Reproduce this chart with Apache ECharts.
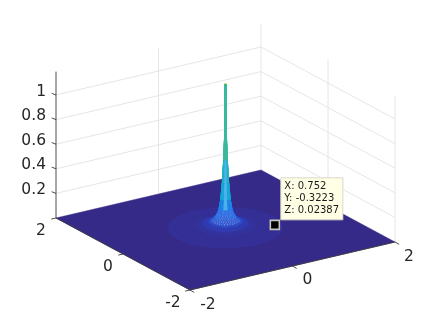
<!DOCTYPE html>
<html><head><meta charset="utf-8">
<style>html,body{margin:0;padding:0;background:#fff}#c{width:436px;height:326px}</style>
<script src="https://cdn.jsdelivr.net/npm/echarts@6/dist/echarts.min.js"></script>
</head><body><div id="c"></div>
<script>
// ---- values ----
const xTicks = [-2, 0, 2];
const yTicks = [-2, 0, 2];
const zTicks = [0.2, 0.4, 0.6, 0.8, 1];
const zLimit = 1.19;
// radial profile of the surface around its peak
const profileR = [0, .005, .013, .016, .03, .052, .078, .105, .125, .15, .175, .205, .24, .28, .33, .38, .44, .5, .6, .7, .82, .94];
const profileZ = [1.19, 1.186, 1.17, .75, .57, .385, .25, .175, .145, .122, .102, .087, .075, .065, .058, .05, .043, .037, .031, .027, .0239, .018];
const tipX = [0.752], tipY = [-0.3223], tipZ = [0.02387];

// ---- view and styles ----
const view = {ox: 225.5, oy: 230, xx: 51.25, xy: -12, yx: -33.5, yy: -18, zy: -123};
const levelLimits = [.037, .05, .065, .085, .12, .18, .26, .38, .5, .6, 1.187, 9];
const levelColors = ['#343097', '#33359f', '#303eb4', '#2d4ec8', '#2a60da', '#2472e4', '#1e84e6', '#1a97e0', '#16a8d6', '#1fb3c4', '#3cb99f', '#e8d83a'];
const floorColor = '#352a87', gridColor = '#e6e6e6', axisColor = '#3a3a3a', textColor = '#262626';
const sectors = 64;
const fontFamily = '"DejaVu Sans"';

function proj(api, x, y, z) {
  return api.coord([
    view.ox + view.xx * x + view.yx * y,
    view.oy + view.xy * x + view.yy * y + view.zy * z
  ]);
}
function levelColor(z) { return levelColors[levelLimits.findIndex(l => z <= l)]; }

// ---- surface facets ----
const faces = [];
for (let i = 0; i < profileR.length - 1; i++) {
  for (let k = 0; k < sectors; k++) {
    const a0 = k / sectors * 2 * Math.PI, a1 = (k + 1) / sectors * 2 * Math.PI;
    const r0 = profileR[i], r1 = profileR[i + 1], z0 = profileZ[i], z1 = profileZ[i + 1];
    const P = [[r0, a0, z0], [r1, a0, z1], [r1, a1, z1], [r0, a1, z0]].map(p => [p[0] * Math.cos(p[1]), p[0] * Math.sin(p[1]), p[2]]);
    const am = (a0 + a1) / 2, rm = (r0 + r1) / 2;
    const cx = rm * Math.cos(am), cy = rm * Math.sin(am);
    const facing = -(12 * Math.cos(am) + 18 * Math.sin(am)) / 21.6;
    // foot of the spike: the white faces glimpse through the mesh
    const pale = facing > 0 && r0 >= .105 && r0 < .24 && ((i + k) % 2 === 0);
    // lighter streak down the front of the spike
    const streak = facing > .96 && r0 >= .03 && r0 < .105;
    faces.push({P, depth: 12 * cx + 18 * cy, color: levelColor(z0), pale, streak});
  }
}
faces.sort((a, b) => b.depth - a.depth);

// ---- walls, axes, labels ----
const X0 = xTicks[0], X1 = xTicks[2], Y0 = yTicks[0], Y1 = yTicks[2];
const gridSegs = [];
zTicks.forEach(z => {
  gridSegs.push([X0, Y1, z, X1, Y1, z]);
  gridSegs.push([X1, Y1, z, X1, Y0, z]);
});
xTicks.slice(1).forEach(x => gridSegs.push([x, Y1, 0, x, Y1, zLimit]));
yTicks.slice(0, 2).forEach(y => gridSegs.push([X1, y, 0, X1, y, zLimit]));

const axisSegs = [
  [X0, Y1, 0, X0, Y1, zLimit],
  [X0, Y0, 0, X1, Y0, 0],
  [X0, Y0, 0, X0, Y1, 0]
];
const tickItems = [];
xTicks.forEach(x => tickItems.push({p: [x, Y0, 0], d: [4.2, 2.4], lab: String(x), o: [x === 0 ? 15 : (x < 0 ? 18 : 14), x === 0 ? 14 : 15]}));
yTicks.forEach(y => tickItems.push({p: [X0, y, 0], d: [-4.8, 1.1], lab: String(y), o: [y < 0 ? -17 : -15, 12.5]}));
zTicks.forEach(z => tickItems.push({p: [X0, Y1, z], d: [-4.3, -1.7], lab: String(z), o: [-10, -3.5], right: true}));

function segRender(segs, color, width) {
  return (params, api) => {
    const s = segs[params.dataIndex];
    const a = proj(api, s[0], s[1], s[2]), b = proj(api, s[3], s[4], s[5]);
    return {type: 'line', shape: {x1: a[0], y1: a[1], x2: b[0], y2: b[1]}, style: {stroke: color, lineWidth: width}};
  };
}
const base = {type: 'custom', coordinateSystem: 'cartesian2d', silent: true, animation: false, clip: false};

const option = {
  animation: false,
  backgroundColor: '#fff',
  grid: {left: 0, right: 0, top: 0, bottom: 0},
  xAxis: {type: 'value', min: 0, max: 436, show: false},
  yAxis: {type: 'value', min: 0, max: 326, inverse: true, show: false},
  series: [
    Object.assign({}, base, {name: 'wall grid', data: gridSegs.map((s, i) => [i]), encode: {x: 0},
      renderItem: segRender(gridSegs, gridColor, 1)}),
    Object.assign({}, base, {name: 'floor', data: [[0]], encode: {x: 0},
      renderItem: (params, api) => ({
        type: 'polygon',
        shape: {points: [proj(api, X0, Y0, 0), proj(api, X1, Y0, 0), proj(api, X1, Y1, 0), proj(api, X0, Y1, 0)]},
        style: {fill: floorColor, stroke: floorColor, lineWidth: .5}
      })}),
    Object.assign({}, base, {name: 'surface', data: faces.map((f, i) => [i]), encode: {x: 0},
      renderItem: (params, api) => {
        const f = faces[params.dataIndex];
        const fill = f.pale ? '#8f8fe4' : (f.streak ? '#52b4ea' : f.color);
        return {
          type: 'polygon',
          shape: {points: f.P.map(p => proj(api, p[0], p[1], p[2]))},
          style: {fill: fill, stroke: f.streak ? fill : f.color, lineWidth: f.pale ? .2 : .35}
        };
      }}),
    Object.assign({}, base, {name: 'axes', data: axisSegs.map((s, i) => [i]), encode: {x: 0},
      renderItem: segRender(axisSegs, axisColor, .9)}),
    Object.assign({}, base, {name: 'ticks', data: tickItems.map((s, i) => [i]), encode: {x: 0},
      renderItem: (params, api) => {
        const t = tickItems[params.dataIndex];
        const a = proj(api, t.p[0], t.p[1], t.p[2]);
        return {type: 'group', children: [
          {type: 'line', shape: {x1: a[0], y1: a[1], x2: a[0] + t.d[0], y2: a[1] + t.d[1]}, style: {stroke: axisColor, lineWidth: .9}},
          {type: 'text', style: {text: t.lab, x: a[0] + t.o[0], y: a[1] + t.o[1], fill: textColor,
            fontSize: 15.5, fontFamily: fontFamily, align: t.right ? 'right' : 'center', verticalAlign: 'middle'}}
        ]};
      }}),
    Object.assign({}, base, {name: 'data tip', data: [[tipX[0], tipY[0], tipZ[0]]], encode: {x: 0},
      renderItem: (params, api) => {
        const c = proj(api, api.value(0), api.value(1), api.value(2));
        const bx = c[0] + 6, by = c[1] - 46, lx = bx + 3.5;
        const line = (s, dy) => ({type: 'text', style: {text: s, x: lx, y: by + dy, fill: '#1a1a1a',
          fontSize: 10, fontFamily: fontFamily, align: 'left', verticalAlign: 'middle'}});
        return {type: 'group', children: [
          {type: 'rect', shape: {x: bx, y: by, width: 62, height: 42}, style: {fill: '#ffffe6', stroke: '#d8d8cc', lineWidth: 1}},
          line('X: ' + tipX[0], 9), line('Y: ' + tipY[0], 21), line('Z: ' + tipZ[0], 33),
          {type: 'rect', shape: {x: c[0] - 4.5, y: c[1] - 3.5, width: 9, height: 9}, style: {fill: '#000', stroke: '#c4c4bc', lineWidth: 1.6}}
        ]};
      }})
  ]
};
echarts.init(document.getElementById('c'), null, {renderer: 'canvas'}).setOption(option);
</script></body></html>
